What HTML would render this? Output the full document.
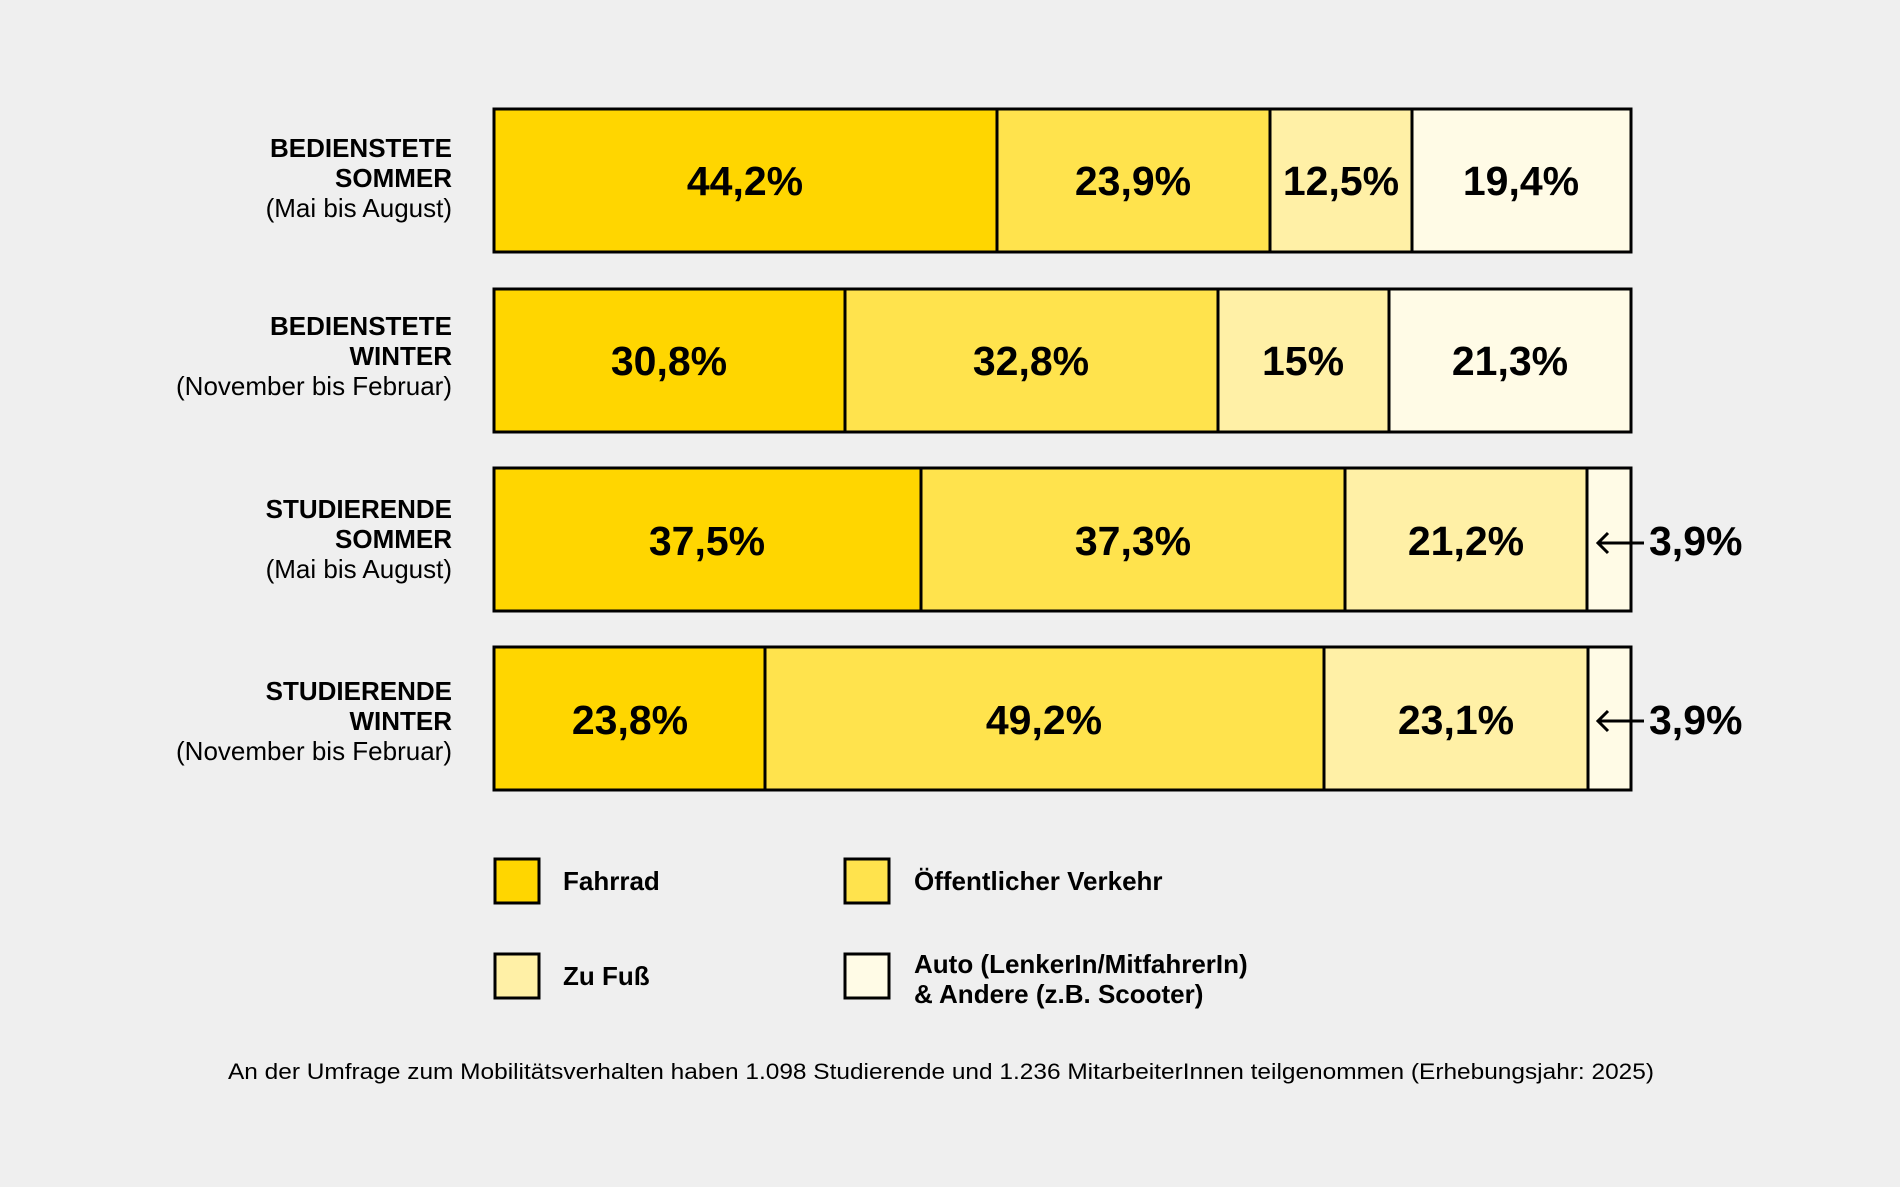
<!DOCTYPE html>
<html><head><meta charset="utf-8"><style>
html,body{margin:0;padding:0;background:#efefef;}
svg{display:block;font-family:"Liberation Sans",sans-serif;}
.b{font-weight:bold;}
</style></head><body>
<svg width="1900" height="1187" viewBox="0 0 1900 1187" xmlns="http://www.w3.org/2000/svg">
<rect width="1900" height="1187" fill="#efefef"/>
<g stroke="#000" stroke-width="3">
<!-- bar1 -->
<rect x="494" y="109" width="503" height="143" fill="#FFD600"/>
<rect x="997" y="109" width="273" height="143" fill="#FFE34D"/>
<rect x="1270" y="109" width="142" height="143" fill="#FFF0A6"/>
<rect x="1412" y="109" width="219" height="143" fill="#FFFBE6"/>
<!-- bar2 -->
<rect x="494" y="289" width="351" height="143" fill="#FFD600"/>
<rect x="845" y="289" width="373" height="143" fill="#FFE34D"/>
<rect x="1218" y="289" width="171" height="143" fill="#FFF0A6"/>
<rect x="1389" y="289" width="242" height="143" fill="#FFFBE6"/>
<!-- bar3 -->
<rect x="494" y="468" width="427" height="143" fill="#FFD600"/>
<rect x="921" y="468" width="424" height="143" fill="#FFE34D"/>
<rect x="1345" y="468" width="242" height="143" fill="#FFF0A6"/>
<rect x="1587" y="468" width="44" height="143" fill="#FFFBE6"/>
<!-- bar4 -->
<rect x="494" y="647" width="271" height="143" fill="#FFD600"/>
<rect x="765" y="647" width="559" height="143" fill="#FFE34D"/>
<rect x="1324" y="647" width="264" height="143" fill="#FFF0A6"/>
<rect x="1588" y="647" width="43" height="143" fill="#FFFBE6"/>
<!-- legend -->
<rect x="495" y="859" width="44" height="44" fill="#FFD600"/>
<rect x="845" y="859" width="44" height="44" fill="#FFE34D"/>
<rect x="495" y="954" width="44" height="44" fill="#FFF0A6"/>
<rect x="845" y="954" width="44" height="44" fill="#FFFBE6"/>
</g>
<g class="b" font-size="41" text-anchor="middle" fill="#000">
<text x="745" y="195">44,2%</text>
<text x="1133" y="195">23,9%</text>
<text x="1341" y="195">12,5%</text>
<text x="1521" y="195">19,4%</text>
<text x="669" y="375">30,8%</text>
<text x="1031" y="375">32,8%</text>
<text x="1303" y="375">15%</text>
<text x="1510" y="375">21,3%</text>
<text x="707" y="555">37,5%</text>
<text x="1133" y="555">37,3%</text>
<text x="1466" y="555">21,2%</text>
<text x="630" y="734">23,8%</text>
<text x="1044" y="734">49,2%</text>
<text x="1456" y="734">23,1%</text>
</g>
<g stroke="#000" stroke-width="3" fill="none">
<line x1="1598" y1="543" x2="1644" y2="543"/><polyline points="1608,533 1598,543 1608,553"/>
<line x1="1598" y1="721" x2="1644" y2="721"/><polyline points="1608,711 1598,721 1608,731"/>
</g>
<g class="b" font-size="41" fill="#000">
<text x="1649" y="555">3,9%</text>
<text x="1649" y="734">3,9%</text>
</g>
<g font-size="26" text-anchor="end" fill="#000">
<text x="452" y="157" class="b">BEDIENSTETE</text>
<text x="452" y="187" class="b">SOMMER</text>
<text x="452" y="217">(Mai bis August)</text>
<text x="452" y="335" class="b">BEDIENSTETE</text>
<text x="452" y="365" class="b">WINTER</text>
<text x="452" y="395">(November bis Februar)</text>
<text x="452" y="518" class="b">STUDIERENDE</text>
<text x="452" y="548" class="b">SOMMER</text>
<text x="452" y="578">(Mai bis August)</text>
<text x="452" y="700" class="b">STUDIERENDE</text>
<text x="452" y="730" class="b">WINTER</text>
<text x="452" y="760">(November bis Februar)</text>
</g>
<g class="b" font-size="26" fill="#000">
<text x="563" y="890">Fahrrad</text>
<text x="914" y="890">Öffentlicher Verkehr</text>
<text x="563" y="985">Zu Fuß</text>
<text x="914" y="973">Auto (LenkerIn/MitfahrerIn)</text>
<text x="914" y="1003">&amp; Andere (z.B. Scooter)</text>
</g>
<text x="228" y="1079" font-size="22" fill="#000" textLength="1426" lengthAdjust="spacingAndGlyphs">An der Umfrage zum Mobilitätsverhalten haben 1.098 Studierende und 1.236 MitarbeiterInnen teilgenommen (Erhebungsjahr: 2025)</text>
</svg>
</body></html>
